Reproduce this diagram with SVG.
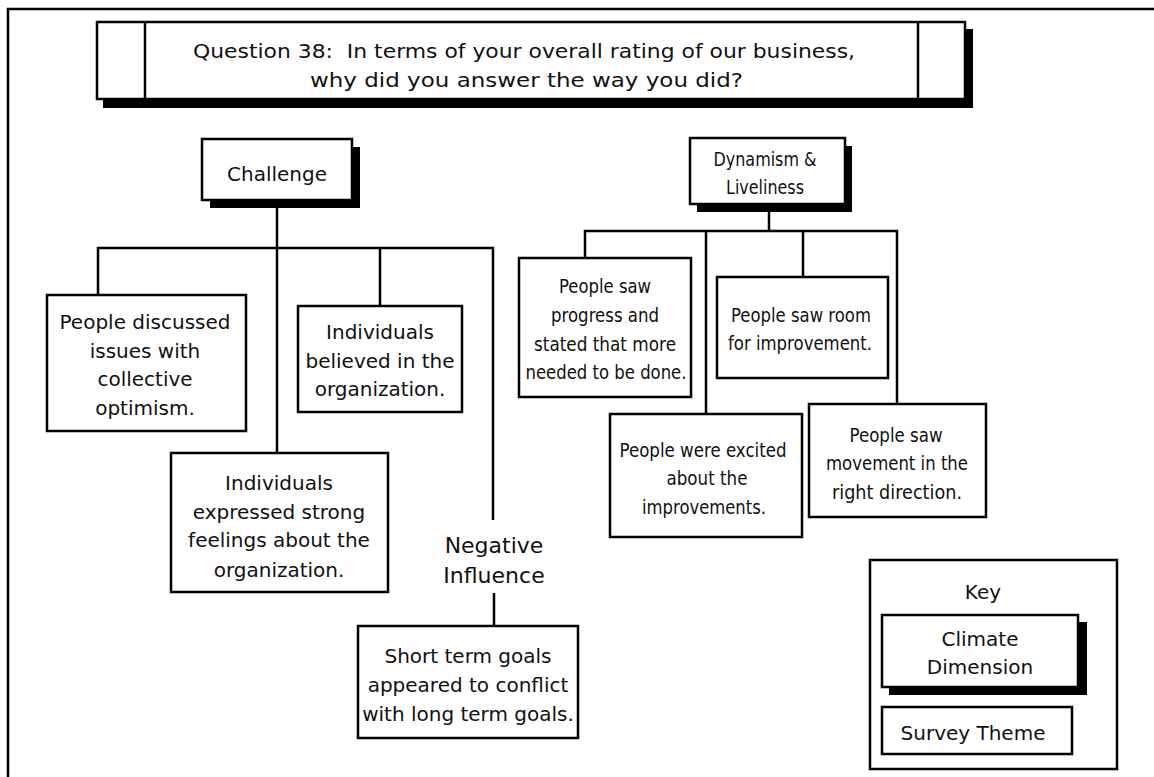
<svg xmlns="http://www.w3.org/2000/svg" width="1154" height="777" viewBox="0 0 1154 777">
  <style>
    .box { fill: #fff; stroke: #000; stroke-width: 2.5; }
    .shadow { fill: #000; }
    .line { fill: none; stroke: #000; stroke-width: 2.5; }
    .txt { font-family: "DejaVu Sans", "Liberation Sans", sans-serif; font-size: 20px; fill: #111; text-anchor: middle; }
    .big { font-size: 22px; }
  </style>

  <!-- page frame -->
  <path class="line" d="M8,777 V9 H1154"/>

  <!-- title banner -->
  <g id="title">
    <rect class="shadow" x="103" y="29" width="870" height="79"/>
    <rect class="box" x="97" y="22" width="868" height="77"/>
    <line class="line" x1="145" y1="22" x2="145" y2="99" stroke-width="2"/>
    <line class="line" x1="918" y1="22" x2="918" y2="99" stroke-width="2"/>
    <text class="txt" xml:space="preserve" x="524" y="58" textLength="662" lengthAdjust="spacingAndGlyphs">Question 38:  In terms of your overall rating of our business,</text>
    <text class="txt" x="526.5" y="87" textLength="433" lengthAdjust="spacingAndGlyphs">why did you answer the way you did?</text>
  </g>

  <!-- connectors -->
  <g id="connectors">
    <!-- Challenge tree -->
    <path class="line" d="M277,208 V453"/>
    <path class="line" d="M98,295 V248 H493 V520"/>
    <path class="line" d="M380,248 V306"/>
    <path class="line" d="M494,593 V626"/>
    <!-- Dynamism tree -->
    <path class="line" d="M769,212 V231"/>
    <path class="line" d="M585,258 V231 H897 V404"/>
    <path class="line" d="M706,231 V414"/>
    <path class="line" d="M803,231 V277"/>
  </g>

  <!-- Challenge -->
  <g id="challenge">
    <rect class="shadow" x="210" y="147" width="150" height="61"/>
    <rect class="box" x="202" y="139" width="150" height="61"/>
    <text class="txt" x="277" y="181">Challenge</text>
  </g>

  <g id="discussed">
    <rect class="box" x="47" y="295" width="199" height="136"/>
    <text class="txt" x="145" y="329">People discussed</text>
    <text class="txt" x="145" y="358">issues with</text>
    <text class="txt" x="145" y="386">collective</text>
    <text class="txt" x="145" y="415">optimism.</text>
  </g>

  <g id="believed">
    <rect class="box" x="298" y="306" width="164" height="106"/>
    <text class="txt" x="380" y="339">Individuals</text>
    <text class="txt" x="380" y="368">believed in the</text>
    <text class="txt" x="380" y="396">organization.</text>
  </g>

  <g id="expressed">
    <rect class="box" x="171" y="453" width="217" height="139"/>
    <text class="txt" x="279" y="490">Individuals</text>
    <text class="txt" x="279" y="519">expressed strong</text>
    <text class="txt" x="279" y="547">feelings about the</text>
    <text class="txt" x="279" y="577">organization.</text>
  </g>

  <g id="negative">
    <text class="txt big" x="494" y="553">Negative</text>
    <text class="txt big" x="494" y="583">Influence</text>
  </g>

  <g id="short-term">
    <rect class="box" x="358" y="626" width="220" height="112"/>
    <text class="txt" x="468" y="663">Short term goals</text>
    <text class="txt" x="468" y="692">appeared to conflict</text>
    <text class="txt" x="468" y="721">with long term goals.</text>
  </g>

  <!-- Dynamism & Liveliness -->
  <g id="dynamism">
    <rect class="shadow" x="697" y="146" width="155" height="66"/>
    <rect class="box" x="690" y="138" width="155" height="66"/>
    <text class="txt" x="765" y="166" textLength="103" lengthAdjust="spacingAndGlyphs">Dynamism &amp;</text>
    <text class="txt" x="765" y="194" textLength="78" lengthAdjust="spacingAndGlyphs">Liveliness</text>
  </g>

  <g id="progress">
    <rect class="box" x="519" y="258" width="172" height="139"/>
    <text class="txt" x="605" y="293" textLength="92" lengthAdjust="spacingAndGlyphs">People saw</text>
    <text class="txt" x="605" y="322" textLength="108" lengthAdjust="spacingAndGlyphs">progress and</text>
    <text class="txt" x="605" y="351" textLength="142" lengthAdjust="spacingAndGlyphs">stated that more</text>
    <text class="txt" x="606" y="379" textLength="161" lengthAdjust="spacingAndGlyphs">needed to be done.</text>
  </g>

  <g id="room">
    <rect class="box" x="717" y="277" width="171" height="101"/>
    <text class="txt" x="801" y="322" textLength="140" lengthAdjust="spacingAndGlyphs">People saw room</text>
    <text class="txt" x="800" y="350" textLength="144" lengthAdjust="spacingAndGlyphs">for improvement.</text>
  </g>

  <g id="excited">
    <rect class="box" x="610" y="414" width="192" height="123"/>
    <text class="txt" x="703" y="457" textLength="167" lengthAdjust="spacingAndGlyphs">People were excited</text>
    <text class="txt" x="707" y="485" textLength="81" lengthAdjust="spacingAndGlyphs">about the</text>
    <text class="txt" x="704" y="514" textLength="124" lengthAdjust="spacingAndGlyphs">improvements.</text>
  </g>

  <g id="movement">
    <rect class="box" x="809" y="404" width="177" height="113"/>
    <text class="txt" x="896" y="442" textLength="93" lengthAdjust="spacingAndGlyphs">People saw</text>
    <text class="txt" x="897" y="470" textLength="142" lengthAdjust="spacingAndGlyphs">movement in the</text>
    <text class="txt" x="897" y="499" textLength="130" lengthAdjust="spacingAndGlyphs">right direction.</text>
  </g>

  <!-- legend -->
  <g id="key">
    <rect class="box" x="870" y="560" width="247" height="209" stroke-width="2"/>
    <text class="txt" x="983" y="599">Key</text>
    <rect class="shadow" x="889" y="622" width="198" height="73"/>
    <rect class="box" x="882" y="615" width="196" height="72"/>
    <text class="txt" x="980" y="646">Climate</text>
    <text class="txt" x="980" y="674">Dimension</text>
    <rect class="box" x="882" y="707" width="190" height="47"/>
    <text class="txt" x="973" y="740">Survey Theme</text>
  </g>
</svg>
